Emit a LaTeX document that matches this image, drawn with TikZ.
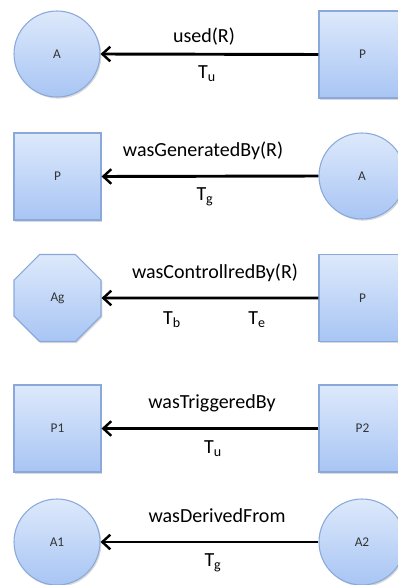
\documentclass[tikz,border=0pt]{standalone}
\usepackage{fontspec}
\setmainfont{Carlito}
\usetikzlibrary{shapes.geometric,shadows,arrows.meta}
\definecolor{fillTop}{HTML}{DDE9FB}
\definecolor{fillBot}{HTML}{A8C5F4}
\definecolor{edgeC}{HTML}{8AA9DA}
\definecolor{txtC}{HTML}{333333}
\tikzset{
  base/.style={draw=edgeC, line width=0.8pt, top color=fillTop, bottom color=fillBot,
    inner sep=0pt, text=txtC, font=\fontsize{10}{12}\selectfont,
    drop shadow={opacity=0.3, shadow xshift=1pt, shadow yshift=-1.2pt}},
  procbox/.style={base, rectangle, minimum width=65.25pt, minimum height=65.25pt},
  artic/.style={base, circle, minimum size=64.5pt},
  agentoct/.style={base, regular polygon, regular polygon sides=8, minimum size=70.6pt},
  conn/.style={line width=2.2pt, -{Straight Barb[length=6pt,width=11pt,line width=1.8pt]}},
  lbl/.style={font=\fontsize{15}{18}\selectfont, text=black, inner sep=0pt}
}
\begin{document}
\begin{tikzpicture}[x=0.75pt,y=-0.75pt]
\useasboundingbox (0,0) rectangle (398,585);
\clip (0,0) rectangle (398,585);
% row 1
\node[artic] (a1) at (57,54) {A};
\node[procbox] (p1) at (362.5,54.5) {P};
\draw[conn] (p1.west) -- (a1.east);
\node[lbl] (l1) at (204,37) {used(R)};
\node[lbl] (t1) at (207,74) {T\textsubscript{u}};
% row 2
\node[procbox] (p2) at (57.5,176.5) {P};
\node[artic] (a2) at (362,176) {A};
\draw[conn] (a2.west) -- (p2.east);
\node[lbl] (l2) at (203,151) {wasGeneratedBy(R)};
\node[lbl] (t2) at (205,197) {T\textsubscript{g}};
% row 3
\node[agentoct] (ag) at (57.5,298) {Ag};
\node[procbox] (p3) at (362.5,298) {P};
\draw[conn] (p3.west) -- (ag.east);
\node[lbl] (l3) at (215,273) {wasControllredBy(R)};
\node[lbl] (tb) at (172,320) {T\textsubscript{b}};
\node[lbl] (te) at (257,320) {T\textsubscript{e}};
% row 4
\node[procbox] (pp1) at (57.5,428.5) {P1};
\node[procbox] (pp2) at (362.5,428.5) {P2};
\draw[conn] (pp2.west) -- (pp1.east);
\node[lbl] (l4) at (212,403) {wasTriggeredBy};
\node[lbl] (t4) at (213,449) {T\textsubscript{u}};
% row 5
\node[artic] (aa1) at (57,542) {A1};
\node[artic] (aa2) at (362,542) {A2};
\draw[conn] (aa2.west) -- (aa1.east);
\node[lbl] (l5) at (217,516) {wasDerivedFrom};
\node[lbl] (t5) at (213,563) {T\textsubscript{g}};
\end{tikzpicture}
\end{document}
